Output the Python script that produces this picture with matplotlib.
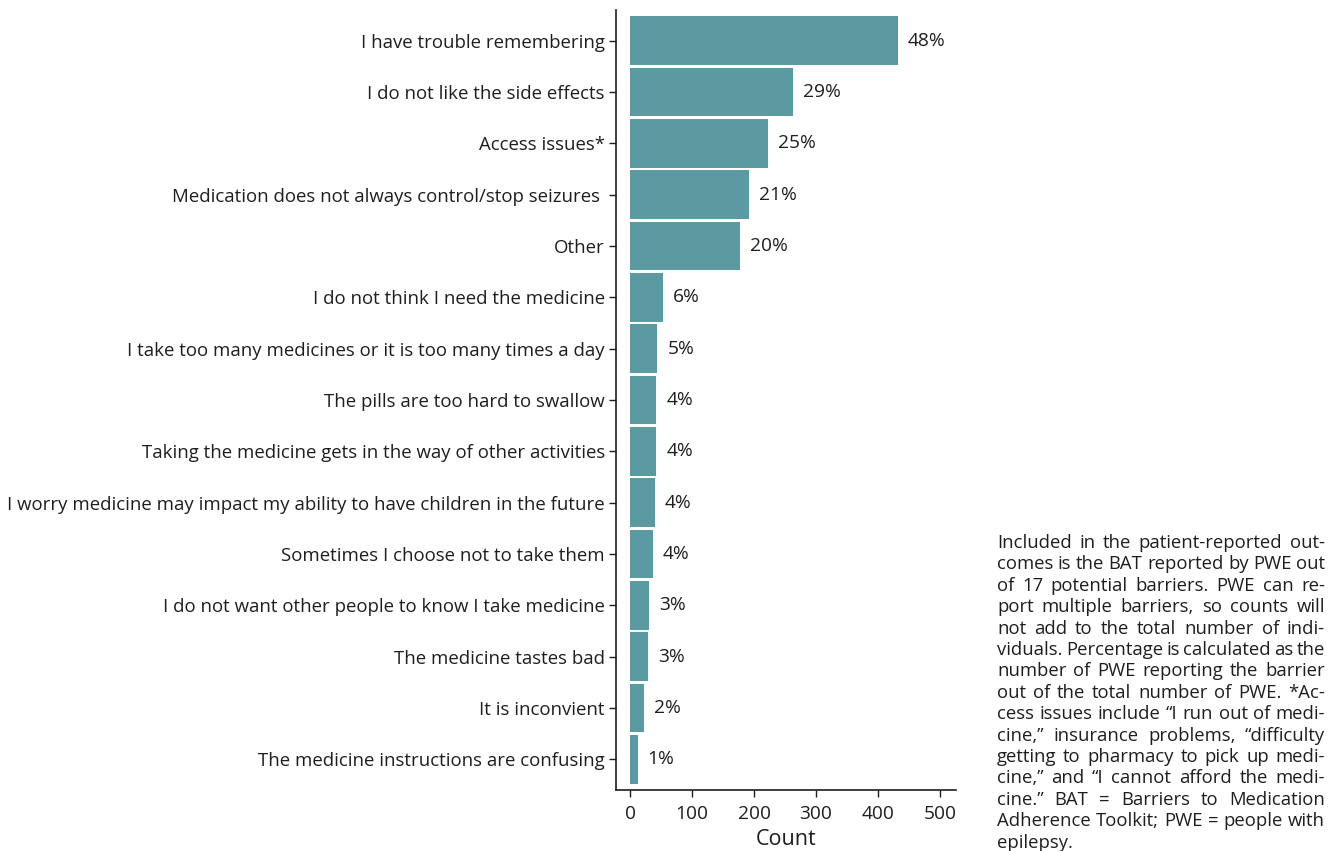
import matplotlib
matplotlib.use("Agg")
import matplotlib.pyplot as plt

plt.rcParams["font.family"] = ["Open Sans", "DejaVu Sans"]

barriers = ["I have trouble remembering", "I do not like the side effects", "Access issues*",
            "Medication does not always control/stop seizures ", "Other",
            "I do not think I need the medicine", "I take too many medicines or it is too many times a day",
            "The pills are too hard to swallow", "Taking the medicine gets in the way of other activities",
            "I worry medicine may impact my ability to have children in the future",
            "Sometimes I choose not to take them", "I do not want other people to know I take medicine",
            "The medicine tastes bad", "It is inconvient", "The medicine instructions are confusing"]
counts = [432, 263, 222, 192, 178, 53, 44, 42, 42, 40, 37, 31, 29, 23, 12]
percents = ["48%", "29%", "25%", "21%", "20%", "6%", "5%", "4%", "4%", "4%", "4%", "3%", "3%", "2%", "1%"]
xticks = [0, 100, 200, 300, 400, 500]

caption_lines = [
    "Included in the patient-reported out-",
    "comes is the BAT reported by PWE out",
    "of 17 potential barriers. PWE can re-",
    "port multiple barriers, so counts will",
    "not add to the total number of indi-",
    "viduals. Percentage is calculated as the",
    "number of PWE reporting the barrier",
    "out of the total number of PWE. *Ac-",
    "cess issues include \u201cI run out of medi-",
    "cine,\u201d insurance problems, \u201cdifficulty",
    "getting to pharmacy to pick up medi-",
    "cine,\u201d and \u201cI cannot afford the medi-",
    "cine.\u201d BAT = Barriers to Medication",
    "Adherence Toolkit; PWE = people with",
    "epilepsy.",
]

W, H = 1338, 851
fig = plt.figure(figsize=(W / 100, H / 100), dpi=100)
ax = fig.add_axes([616 / W, 1 - 790 / H, (956 - 616) / W, (790 - 10) / H])

ink = "#1e1e1e"
pos = list(range(len(barriers)))
ax.barh(pos, counts, height=0.95, color="#5b9aa1", edgecolor="none")
for y, c, p in zip(pos, counts, percents):
    ax.text(c + 16, y, p, va="center", ha="left", fontsize=13.8, color=ink)

ax.set_ylim(len(barriers) - 0.4, -0.6)
ax.set_xlim(-23, 526)
ax.set_yticks(pos)
ax.set_yticklabels(barriers, fontsize=13.4, color=ink)
ax.set_xticks(xticks)
ax.set_xticklabels([str(t) for t in xticks], fontsize=13.8, color=ink)
ax.set_xlabel("Count", fontsize=15.5, color=ink, labelpad=4)
ax.tick_params(length=5, width=1, color=ink, pad=3)
ax.tick_params(axis="x", pad=6)
for side in ["top", "right"]:
    ax.spines[side].set_visible(False)
for side in ["left", "bottom"]:
    ax.spines[side].set_color(ink)
    ax.spines[side].set_linewidth(1.2)

# justified caption on the right
left, right, top, step = 997 / W, 1325 / W, 1 - 543 / H, 21.4 / H
renderer = fig.canvas.get_renderer()
for i, line in enumerate(caption_lines):
    y = top - i * step
    words = line.split(" ")
    if i == len(caption_lines) - 1:
        fig.text(left, y, line, fontsize=13.3, color=ink, va="center", ha="left")
        continue
    arts = [fig.text(0, y, w, fontsize=13.3, color=ink, va="center", ha="left") for w in words]
    widths = [a.get_window_extent(renderer).width / W for a in arts]
    gap = (right - left - sum(widths)) / max(len(words) - 1, 1)
    x = left
    for a, w in zip(arts, widths):
        a.set_x(x)
        x += w + gap

fig.savefig("out.png", dpi=100)
